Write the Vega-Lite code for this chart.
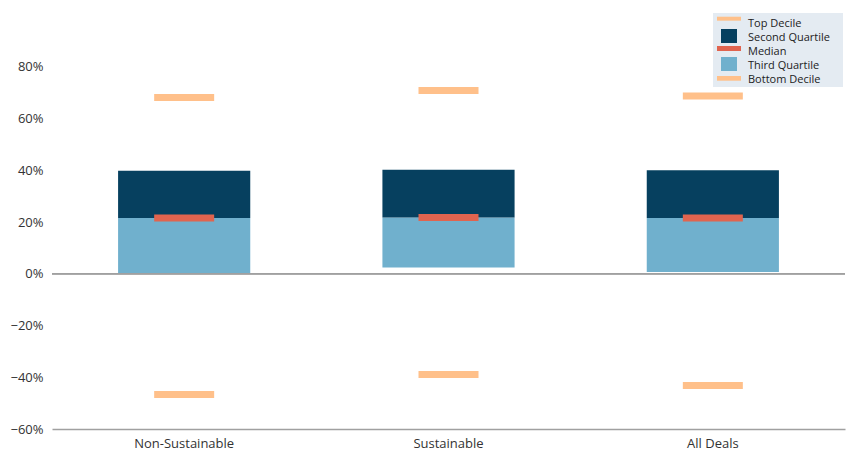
{
  "$schema": "https://vega.github.io/schema/vega-lite/v6.json",
  "width": 793,
  "height": 414,
  "autosize": {"type": "none"},
  "padding": {"left": 52, "top": 15, "right": 14, "bottom": 39},
  "background": "white",
  "config": {
    "view": {"stroke": null},
    "font": "Open Sans"
  },
  "data": {
    "values": [
      {"group": "Non-Sustainable", "p10": -0.467, "q1": 0.0, "median": 0.215, "q3": 0.398, "p90": 0.681},
      {"group": "Sustainable", "p10": -0.389, "q1": 0.024, "median": 0.217, "q3": 0.402, "p90": 0.708},
      {"group": "All Deals", "p10": -0.432, "q1": 0.007, "median": 0.215, "q3": 0.400, "p90": 0.687}
    ]
  },
  "layer": [
    {
      "mark": {"type": "bar"},
      "encoding": {
        "x": {
          "field": "group",
          "type": "nominal",
          "sort": ["Non-Sustainable", "Sustainable", "All Deals"],
          "scale": {"paddingInner": 0.5, "paddingOuter": 0.25},
          "axis": {
            "title": null,
            "labelAngle": 0,
            "ticks": false,
            "domainColor": "#A0A0A0",
            "domainWidth": 1.3,
            "labelFontSize": 13,
            "labelColor": "#333333",
            "labelPadding": 8
          }
        },
        "y": {
          "field": "q1",
          "type": "quantitative",
          "scale": {"domain": [-0.6, 1.0], "nice": false, "zero": false},
          "axis": {
            "title": null,
            "format": ".0%",
            "values": [-0.6, -0.4, -0.2, 0, 0.2, 0.4, 0.6, 0.8],
            "domain": false,
            "ticks": false,
            "grid": false,
            "labelFontSize": 13,
            "labelColor": "#333333",
            "labelPadding": 9
          }
        },
        "y2": {"field": "median"},
        "color": {
          "datum": "Third Quartile",
          "type": "nominal",
          "scale": {
            "domain": ["Top Decile", "Second Quartile", "Median", "Third Quartile", "Bottom Decile"],
            "range": ["#FFC08A", "#06405F", "#E0644F", "#70B0CD", "#FFC08A"]
          },
          "legend": {
            "title": " ",
            "titleOrient": "right",
            "titlePadding": 11,
            "orient": "none",
            "legendX": 661,
            "legendY": -2,
            "fillColor": "#E4EBF2",
            "padding": 2,
            "rowPadding": 0,
            "clipHeight": 14,
            "symbolSize": 121,
            "labelOffset": 22,
            "labelFontSize": 11,
            "labelColor": "#222222",
            "labelFont": "Open Sans",
            "encode": {
              "labels": {
                "update": {"dy": {"value": 1.5}}
              },
              "symbols": {
                "update": {
                  "shape": {"signal": "datum.value === 'Top Decile' ? 'M-0.64,-0.96H3.73V-0.24H-0.64Z' : datum.value === 'Second Quartile' ? 'M0.09,-2.0H3.0V1.76H0.09Z' : datum.value === 'Median' ? 'M-0.64,-0.73H3.73V0.18H-0.64Z' : datum.value === 'Third Quartile' ? 'M0.09,-2.36H3.0V1.27H0.09Z' : 'M-0.64,-0.36H3.73V0.49H-0.64Z'"},
                  "fill": {"scale": "color", "field": "value"},
                  "strokeWidth": {"value": 0},
                  "opacity": {"value": 1}
                }
              }
            }
          }
        }
      }
    },
    {
      "mark": {"type": "bar"},
      "encoding": {
        "x": {"field": "group", "type": "nominal", "sort": ["Non-Sustainable", "Sustainable", "All Deals"]},
        "y": {"field": "median", "type": "quantitative"},
        "y2": {"field": "q3"},
        "color": {"datum": "Second Quartile", "type": "nominal"}
      }
    },
    {
      "mark": {"type": "rule", "color": "#A0A0A0", "strokeWidth": 1.3},
      "encoding": {"y": {"datum": 0, "type": "quantitative"}}
    },
    {
      "mark": {"type": "tick", "size": 60, "thickness": 7, "opacity": 1},
      "encoding": {
        "x": {"field": "group", "type": "nominal", "sort": ["Non-Sustainable", "Sustainable", "All Deals"]},
        "y": {"field": "median", "type": "quantitative"},
        "color": {"datum": "Median", "type": "nominal"}
      }
    },
    {
      "mark": {"type": "tick", "size": 60, "thickness": 7, "opacity": 1},
      "encoding": {
        "x": {"field": "group", "type": "nominal", "sort": ["Non-Sustainable", "Sustainable", "All Deals"]},
        "y": {"field": "p90", "type": "quantitative"},
        "color": {"datum": "Top Decile", "type": "nominal"}
      }
    },
    {
      "mark": {"type": "tick", "size": 60, "thickness": 7, "opacity": 1},
      "encoding": {
        "x": {"field": "group", "type": "nominal", "sort": ["Non-Sustainable", "Sustainable", "All Deals"]},
        "y": {"field": "p10", "type": "quantitative"},
        "color": {"datum": "Bottom Decile", "type": "nominal"}
      }
    }
  ]
}
